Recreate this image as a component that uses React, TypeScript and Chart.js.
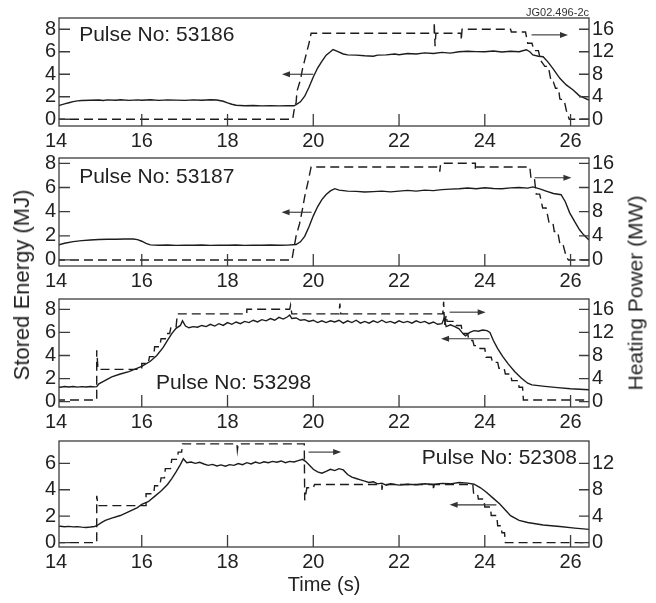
import React, { useEffect, useRef } from 'react';
import { Chart, registerables } from 'chart.js';

Chart.register(...registerables);

const FONT = '"Liberation Sans", Arial, Helvetica, sans-serif';
const INK = '#1c1c1c';
const FRAME = '#3c3c3c';

const xTicks = [14, 16, 18, 20, 22, 24, 26];

// ---------- Pulse 53186 ----------
const energy53186: [number, number][] = [
  [14.0, 1.13], [14.1, 1.25], [14.2, 1.36], [14.3, 1.47], [14.4, 1.57], [14.5, 1.63], [14.6, 1.67], [14.8, 1.69], [15.0, 1.71],
  [15.1, 1.67], [15.2, 1.72], [15.4, 1.69], [15.5, 1.73], [15.7, 1.68], [15.9, 1.72], [16.0, 1.69], [16.2, 1.73], [16.4, 1.68],
  [16.6, 1.72], [16.8, 1.7], [17.0, 1.68], [17.2, 1.72], [17.4, 1.69], [17.6, 1.73], [17.75, 1.71], [17.9, 1.6], [18.0, 1.45],
  [18.1, 1.33], [18.2, 1.24], [18.4, 1.2], [18.6, 1.22], [18.8, 1.19], [19.0, 1.21], [19.2, 1.19], [19.4, 1.21], [19.55, 1.2],
  [19.6, 1.3], [19.7, 1.55], [19.8, 2.05], [19.9, 2.85], [20.0, 3.75], [20.1, 4.55], [20.2, 5.15], [20.3, 5.7], [20.4, 6.0],
  [20.46, 6.2], [20.55, 6.05], [20.7, 5.8], [20.8, 5.72], [21.0, 5.7], [21.2, 5.64], [21.4, 5.6], [21.5, 5.7], [21.7, 5.72],
  [21.9, 5.8], [22.0, 5.74], [22.2, 5.84], [22.4, 5.8], [22.6, 5.9], [22.8, 5.84], [23.0, 5.94], [23.2, 5.88], [23.4, 6.0],
  [23.6, 6.05], [23.8, 6.01], [24.0, 6.0], [24.2, 6.06], [24.4, 5.98], [24.6, 6.05], [24.8, 6.0], [24.97, 6.18], [25.05, 6.0],
  [25.12, 5.72], [25.25, 5.6], [25.36, 5.56], [25.47, 5.1], [25.59, 4.5], [25.75, 3.64], [25.9, 3.05], [26.06, 2.6],
  [26.2, 2.1], [26.43, 1.7],
];
const power53186: [number, number][] = [
  [14.0, 0], [19.52, 0], [19.55, 1.5], [19.6, 3], [19.62, 5], [19.7, 7], [19.75, 9], [19.8, 10.5], [19.85, 12], [19.9, 13.5],
  [19.95, 15.3], [22.82, 15.3], [22.82, 17.3], [22.84, 13.0], [22.86, 15.3], [23.45, 15.3], [23.45, 14.0], [23.47, 16],
  [24.6, 16], [24.62, 15.5], [24.95, 15.5], [25.0, 13.5], [25.1, 13.5], [25.15, 12.2], [25.25, 12.2], [25.3, 10.5],
  [25.4, 9.4], [25.48, 9.4], [25.55, 6.6], [25.6, 6.6], [25.65, 5.5], [25.72, 5.5], [25.75, 3.6], [25.85, 3.4], [25.9, 1.6],
  [25.97, 0], [26.43, 0],
];
const arrows53186 = [
  { from: 20.0, to: 19.27, y: 4.0, axis: 'L' },
  { from: 25.09, to: 25.94, y: 15.0, axis: 'R' },
];

// ---------- Pulse 53187 ----------
const energy53187: [number, number][] = [
  [14.0, 1.2], [14.2, 1.38], [14.4, 1.52], [14.6, 1.6], [14.8, 1.65], [15.0, 1.69], [15.2, 1.71], [15.4, 1.72], [15.6, 1.73],
  [15.8, 1.74], [15.9, 1.68], [16.0, 1.55], [16.1, 1.38], [16.2, 1.25], [16.4, 1.22], [16.6, 1.24], [16.8, 1.21], [17.0, 1.23],
  [17.2, 1.22], [17.4, 1.24], [17.6, 1.21], [17.8, 1.23], [18.0, 1.22], [18.2, 1.24], [18.4, 1.21], [18.6, 1.23], [18.8, 1.22],
  [19.0, 1.24], [19.2, 1.22], [19.4, 1.23], [19.6, 1.28], [19.7, 1.5], [19.8, 1.95], [19.9, 2.75], [20.0, 3.65], [20.1, 4.4],
  [20.2, 5.0], [20.3, 5.42], [20.4, 5.72], [20.5, 5.9], [20.6, 5.78], [20.8, 5.7], [21.0, 5.68], [21.2, 5.62], [21.4, 5.66],
  [21.6, 5.7], [21.8, 5.64], [22.0, 5.7], [22.2, 5.76], [22.4, 5.7], [22.6, 5.78], [22.8, 5.74], [23.0, 5.82], [23.2, 5.86],
  [23.4, 5.9], [23.6, 5.96], [23.8, 5.9], [24.0, 5.98], [24.2, 5.92], [24.4, 5.9], [24.6, 5.97], [24.8, 6.0], [25.0, 5.95],
  [25.12, 6.05], [25.3, 5.86], [25.43, 5.7], [25.6, 5.5], [25.78, 5.4], [25.88, 4.8], [25.98, 3.9], [26.1, 3.15],
  [26.21, 2.5], [26.3, 2.1], [26.43, 1.65],
];
const power53187: [number, number][] = [
  [14.0, 0], [19.5, 0], [19.55, 2], [19.6, 4], [19.68, 6], [19.75, 8.5], [19.8, 10.5], [19.88, 13], [19.95, 15.4],
  [22.95, 15.4], [22.95, 14.6], [22.97, 16], [23.78, 16], [23.78, 14.8], [23.8, 15.4], [25.05, 15.4], [25.08, 13.3],
  [25.16, 13.3], [25.2, 10.9], [25.28, 10.9], [25.35, 8.6], [25.43, 8.6], [25.5, 6.1], [25.59, 6.1], [25.62, 4.7],
  [25.7, 4.7], [25.75, 2.7], [25.82, 2.7], [25.9, 0.5], [25.95, 0], [26.43, 0],
];
const arrows53187 = [
  { from: 19.96, to: 19.26, y: 3.95, axis: 'L' },
  { from: 25.16, to: 26.02, y: 13.6, axis: 'R' },
];

// ---------- Pulse 53298 ----------
const energy53298: [number, number][] = [
  [14.0, 1.3], [14.1, 1.25], [14.2, 1.32], [14.3, 1.27], [14.4, 1.31], [14.5, 1.26], [14.6, 1.3], [14.7, 1.27], [14.8, 1.31],
  [14.9, 1.28], [14.95, 1.3], [15.0, 1.55], [15.15, 1.85], [15.3, 2.15], [15.5, 2.4], [15.7, 2.6], [16.0, 3.05], [16.2, 3.5],
  [16.35, 4.0], [16.5, 4.7], [16.6, 5.3], [16.7, 5.9], [16.8, 6.35], [16.9, 6.6], [16.95, 7.0], [17.02, 6.55], [17.1, 6.4],
  [17.2, 6.5], [17.3, 6.45], [17.4, 6.6], [17.5, 6.5], [17.6, 6.7], [17.7, 6.55], [17.8, 6.75], [17.9, 6.6], [18.0, 6.85],
  [18.1, 6.7], [18.2, 6.9], [18.3, 6.75], [18.4, 6.95], [18.5, 6.85], [18.6, 7.05], [18.7, 6.9], [18.8, 7.1], [18.9, 7.0],
  [19.0, 7.2], [19.1, 7.05], [19.2, 7.3], [19.3, 7.15], [19.4, 7.35], [19.45, 7.5], [19.5, 7.2], [19.6, 7.25], [19.7, 7.05],
  [19.8, 7.1], [19.9, 6.95], [20.0, 7.05], [20.1, 6.85], [20.2, 7.0], [20.3, 6.85], [20.4, 7.0], [20.5, 6.9], [20.6, 7.05],
  [20.7, 6.8], [20.8, 7.0], [20.9, 6.85], [21.0, 7.05], [21.1, 6.8], [21.2, 6.95], [21.3, 6.8], [21.4, 7.0], [21.5, 6.85],
  [21.6, 7.05], [21.7, 6.85], [21.8, 6.95], [21.9, 6.8], [22.0, 7.0], [22.1, 6.85], [22.2, 6.95], [22.3, 6.8], [22.4, 7.0],
  [22.5, 6.85], [22.6, 6.95], [22.7, 6.75], [22.8, 6.9], [22.9, 6.7], [23.0, 6.75], [23.05, 7.2], [23.1, 6.5], [23.2, 6.65],
  [23.3, 6.5], [23.4, 6.3], [23.5, 5.85], [23.55, 5.7], [23.65, 6.0], [23.75, 6.15], [23.85, 6.1], [23.95, 6.2], [24.05, 6.15],
  [24.12, 6.0], [24.2, 5.3], [24.3, 4.6], [24.42, 3.9], [24.55, 3.25], [24.7, 2.6], [24.85, 2.05], [25.0, 1.6], [25.1, 1.45],
  [25.4, 1.33], [25.7, 1.22], [26.0, 1.12], [26.43, 1.03],
];
const power53298: [number, number][] = [
  [14.0, 0.3], [14.95, 0.3], [14.95, 8.9], [14.98, 5.6], [16.0, 5.6], [16.0, 6.6], [16.15, 6.6], [16.18, 7.8], [16.28, 7.8],
  [16.3, 9.5], [16.42, 9.5], [16.45, 10.9], [16.55, 10.9], [16.58, 11.8], [16.65, 11.8], [16.68, 12.9], [16.8, 12.9],
  [16.83, 15.2], [18.45, 15.2], [18.45, 16], [19.45, 16], [19.47, 16.7], [19.5, 15.2], [20.6, 15.2], [20.62, 17],
  [20.64, 15.2], [23.02, 15.2], [23.04, 17.3], [23.06, 13.2], [23.1, 15.0], [23.12, 13.9], [23.3, 13.9], [23.33, 13.2],
  [23.45, 13.2], [23.48, 11.8], [23.6, 11.8], [23.63, 10.6], [23.72, 10.6], [23.75, 9.7], [23.86, 9.7], [23.89, 9.2],
  [24.0, 9.2], [24.03, 7.7], [24.15, 7.7], [24.18, 6.8], [24.3, 6.8], [24.33, 5.8], [24.45, 5.8], [24.48, 4.8], [24.6, 4.8],
  [24.63, 3.65], [24.78, 3.65], [24.8, 2.5], [24.88, 2.5], [24.9, 0.3], [26.43, 0.3],
];
const arrows53298 = [
  { from: 23.18, to: 24.02, y: 15.5, axis: 'R' },
  { from: 24.11, to: 22.98, y: 5.45, axis: 'L' },
];

// ---------- Pulse 52308 ----------
const energy52308: [number, number][] = [
  [14.0, 1.22], [14.1, 1.24], [14.2, 1.2], [14.3, 1.23], [14.4, 1.19], [14.5, 1.21], [14.6, 1.17], [14.7, 1.15], [14.8, 1.18],
  [14.9, 1.22], [14.95, 1.28], [15.05, 1.5], [15.15, 1.68], [15.3, 1.85], [15.5, 2.05], [15.7, 2.35], [15.9, 2.65], [16.0, 2.9],
  [16.15, 3.1], [16.3, 3.5], [16.45, 3.9], [16.6, 4.4], [16.7, 4.85], [16.8, 5.35], [16.9, 5.9], [16.97, 6.35], [17.05, 6.05],
  [17.15, 6.1], [17.25, 6.0], [17.35, 6.08], [17.45, 5.95], [17.55, 5.85], [17.65, 5.92], [17.75, 5.8], [17.85, 5.88],
  [17.95, 5.78], [18.05, 5.9], [18.15, 5.85], [18.25, 5.98], [18.35, 5.9], [18.45, 6.05], [18.55, 5.95], [18.65, 6.1],
  [18.75, 6.0], [18.85, 6.12], [18.95, 6.05], [19.05, 6.15], [19.15, 6.08], [19.25, 6.18], [19.35, 6.05], [19.45, 6.15],
  [19.55, 6.1], [19.65, 6.2], [19.75, 6.3], [19.82, 6.15], [19.9, 5.9], [20.0, 5.55], [20.1, 5.35], [20.2, 5.25], [20.3, 5.4],
  [20.4, 5.55], [20.5, 5.45], [20.6, 5.6], [20.7, 5.5], [20.8, 5.15], [20.9, 4.95], [21.0, 4.85], [21.1, 4.75], [21.2, 4.65],
  [21.3, 4.55], [21.4, 4.6], [21.5, 4.45], [21.6, 4.5], [21.7, 4.35], [21.8, 4.45], [22.0, 4.35], [22.2, 4.42], [22.4, 4.38],
  [22.6, 4.45], [22.8, 4.4], [23.0, 4.48], [23.2, 4.45], [23.4, 4.55], [23.6, 4.5], [23.75, 4.42], [23.9, 4.15], [24.03, 3.83],
  [24.2, 3.35], [24.35, 2.93], [24.5, 2.4], [24.6, 2.04], [24.8, 1.68], [25.0, 1.52], [25.36, 1.33], [25.75, 1.22],
  [26.1, 1.1], [26.43, 1.0],
];
const power52308: [number, number][] = [
  [14.0, 0], [14.95, 0], [14.95, 7.1], [14.98, 5.6], [16.1, 5.6], [16.1, 7.4], [16.28, 7.4], [16.3, 8.6], [16.42, 8.6],
  [16.45, 9.8], [16.53, 9.8], [16.55, 11.2], [16.67, 11.2], [16.7, 12.6], [16.83, 12.6], [16.85, 13.7], [16.93, 13.7],
  [16.95, 14.95], [18.22, 14.95], [18.23, 14.0], [18.25, 14.95], [19.79, 14.95], [19.8, 6.4], [19.85, 8.3], [20.0, 8.3],
  [20.03, 8.8], [21.6, 8.8], [21.6, 8.0], [21.62, 8.8], [22.8, 8.8], [22.8, 7.9], [22.82, 8.8], [23.72, 8.8], [23.74, 7.4],
  [23.83, 7.4], [23.85, 6.6], [23.98, 6.6], [24.0, 5.4], [24.13, 5.4], [24.15, 4.1], [24.28, 4.1], [24.3, 2.55], [24.38, 2.55],
  [24.4, 1.5], [24.46, 1.5], [24.48, 0], [26.43, 0],
];
const arrows52308 = [
  { from: 19.89, to: 20.65, y: 13.7, axis: 'R' },
  { from: 24.27, to: 23.18, y: 2.86, axis: 'L' },
];

const panels = [
  { label: 'Pulse No: 53186', lx: 14.54, ly: 7.5, energy: energy53186, power: power53186, arrows: arrows53186, yMin: -0.6, yMax: 9.0, top: 18, h: 108 },
  { label: 'Pulse No: 53187', lx: 14.54, ly: 6.87, energy: energy53187, power: power53187, arrows: arrows53187, yMin: -0.5, yMax: 8.44, top: 158, h: 108 },
  { label: 'Pulse No: 53298', lx: 16.33, ly: 1.62, energy: energy53298, power: power53298, arrows: arrows53298, yMin: -0.46, yMax: 8.89, top: 299, h: 108 },
  { label: 'Pulse No: 52308', lx: 22.53, ly: 6.39, energy: energy52308, power: power52308, arrows: arrows52308, yMin: -0.33, yMax: 7.69, top: 441, h: 106 },
];

const PAD_TOP = 20;
const X_AXIS_H = 32;
const W = 656;
const PLOT_LEFT = 59;
const PLOT_RIGHT = 589;

const decoPlugin = {
  id: 'deco',
  afterDatasetsDraw(chart: any, _args: any, opts: any) {
    const { ctx, chartArea: a } = chart;
    const sx = chart.scales.x;
    const yl = chart.scales.yL;
    const yr = chart.scales.yR;
    ctx.save();
    ctx.strokeStyle = FRAME;
    ctx.lineWidth = 1.3;
    ctx.strokeRect(a.left, a.top, a.right - a.left, a.bottom - a.top);
    ctx.beginPath();
    for (const v of xTicks) {
      const px = sx.getPixelForValue(v);
      if (px <= a.left + 1 || px >= a.right - 1) continue;
      ctx.moveTo(px, a.bottom);
      ctx.lineTo(px, a.bottom - 12);
    }
    yl.ticks.forEach((t: any) => {
      const py = yl.getPixelForValue(t.value);
      ctx.moveTo(a.left, py);
      ctx.lineTo(a.left + 11, py);
    });
    yr.ticks.forEach((t: any) => {
      const py = yr.getPixelForValue(t.value);
      ctx.moveTo(a.right, py);
      ctx.lineTo(a.right - 10, py);
    });
    ctx.stroke();

    ctx.strokeStyle = '#333';
    ctx.fillStyle = '#333';
    ctx.lineWidth = 1.1;
    for (const ar of opts.arrows) {
      const sc = ar.axis === 'R' ? yr : yl;
      const py = sc.getPixelForValue(ar.y);
      const p1 = sx.getPixelForValue(ar.from);
      const p2 = sx.getPixelForValue(ar.to);
      const dir = Math.sign(p2 - p1);
      ctx.beginPath();
      ctx.moveTo(p1, py);
      ctx.lineTo(p2 - dir * 5, py);
      ctx.stroke();
      ctx.beginPath();
      ctx.moveTo(p2, py);
      ctx.lineTo(p2 - dir * 8, py - 3);
      ctx.lineTo(p2 - dir * 8, py + 3);
      ctx.closePath();
      ctx.fill();
    }

    ctx.font = `21px ${FONT}`;
    ctx.fillStyle = '#222';
    ctx.textBaseline = 'middle';
    ctx.textAlign = 'left';
    ctx.fillText(opts.label, sx.getPixelForValue(opts.lx), yl.getPixelForValue(opts.ly));
    ctx.restore();
  },
};

function Panel({ p }: { p: (typeof panels)[number] }) {
  const ref = useRef<HTMLCanvasElement | null>(null);
  const H = PAD_TOP + p.h + X_AXIS_H;
  useEffect(() => {
    if (!ref.current) return;
    const tickFont = { family: FONT, size: 20 };
    const chart = new Chart(ref.current, {
      type: 'line',
      data: {
        datasets: [
          {
            data: p.energy.map(([x, y]) => ({ x, y })),
            yAxisID: 'yL',
            borderColor: INK,
            borderWidth: 1.4,
            pointRadius: 0,
            tension: 0,
            fill: false,
          },
          {
            data: p.power.map(([x, y]) => ({ x, y })),
            yAxisID: 'yR',
            borderColor: INK,
            borderWidth: 1.4,
            borderDash: [9, 5],
            pointRadius: 0,
            tension: 0,
            fill: false,
          },
        ],
      },
      options: {
        responsive: false,
        animation: false,
        devicePixelRatio: 1,
        layout: { padding: { top: PAD_TOP, left: 0, right: 0, bottom: 0 } },
        plugins: {
          legend: { display: false },
          tooltip: { enabled: false },
          deco: { arrows: p.arrows, label: p.label, lx: p.lx, ly: p.ly },
        } as any,
        scales: {
          x: {
            type: 'linear',
            min: 14.07,
            max: 26.43,
            afterBuildTicks: (s: any) => {
              s.ticks = xTicks.map((v) => ({ value: v }));
            },
            afterFit: (s: any) => {
              s.height = X_AXIS_H;
            },
            grid: { display: false, drawTicks: false },
            border: { display: false },
            ticks: { autoSkip: false, maxRotation: 0, padding: 3, font: tickFont, color: '#222' },
          },
          yL: {
            type: 'linear',
            position: 'left',
            min: p.yMin,
            max: p.yMax,
            afterFit: (s: any) => {
              s.width = PLOT_LEFT;
            },
            grid: { display: false, drawTicks: false },
            border: { display: false },
            ticks: { stepSize: 2, includeBounds: false, padding: 3, font: tickFont, color: '#222' },
          },
          yR: {
            type: 'linear',
            position: 'right',
            min: p.yMin * 2,
            max: p.yMax * 2,
            afterFit: (s: any) => {
              s.width = W - PLOT_RIGHT;
            },
            grid: { display: false, drawTicks: false },
            border: { display: false },
            ticks: { stepSize: 4, includeBounds: false, padding: 3, font: tickFont, color: '#222' },
          },
        } as any,
      },
      plugins: [decoPlugin],
    });
    return () => chart.destroy();
  }, []);
  return (
    <canvas
      ref={ref}
      width={W}
      height={H}
      style={{ position: 'absolute', left: 0, top: p.top - PAD_TOP, width: W, height: H, display: 'block' }}
    />
  );
}

export default function App() {
  const textStyle: React.CSSProperties = {
    position: 'absolute',
    fontFamily: FONT,
    color: '#222',
    whiteSpace: 'nowrap',
    lineHeight: 1,
  };
  return (
    <div style={{ position: 'absolute', left: 0, top: 0, width: W, height: 603, background: '#fff', overflow: 'hidden' }}>
      {panels.map((p) => (
        <Panel key={p.label} p={p} />
      ))}
      <div style={{ ...textStyle, right: W - PLOT_RIGHT, top: 7, fontSize: 11, color: '#333' }}>JG02.496-2c</div>
      <div style={{ ...textStyle, left: 22, top: 285, fontSize: 22, transform: 'translate(-50%, -50%) rotate(-90deg)' }}>
        Stored Energy (MJ)
      </div>
      <div style={{ ...textStyle, left: 635, top: 293, fontSize: 21, transform: 'translate(-50%, -50%) rotate(-90deg)' }}>
        Heating Power (MW)
      </div>
      <div style={{ ...textStyle, left: 324, top: 584, fontSize: 20, transform: 'translate(-50%, -50%)' }}>Time (s)</div>
    </div>
  );
}
